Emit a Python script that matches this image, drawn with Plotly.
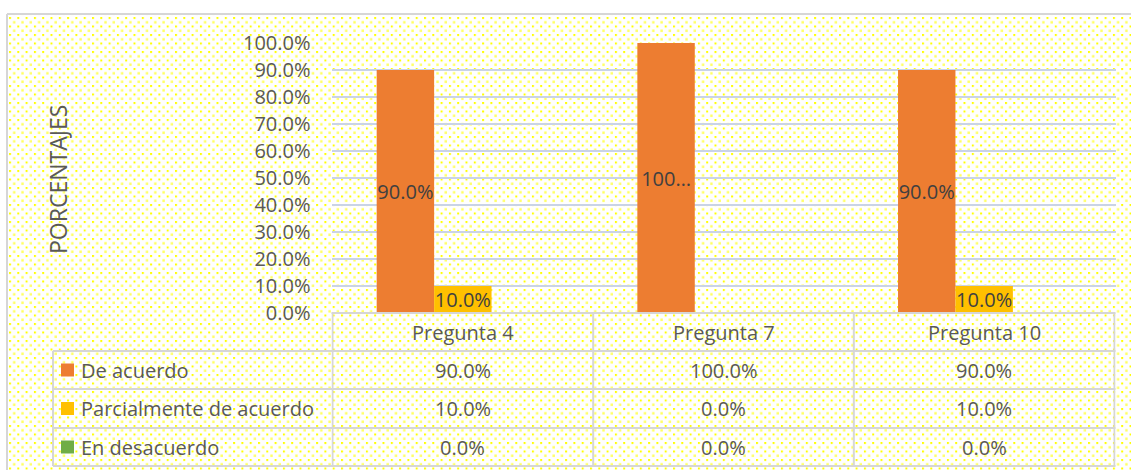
import base64
import plotly.graph_objects as go

# ---------------- data ----------------
categories = ["Pregunta 4", "Pregunta 7", "Pregunta 10"]
series_names = ["De acuerdo", "Parcialmente de acuerdo", "En desacuerdo"]
de_acuerdo = [0.90, 1.00, 0.90]
parcialmente = [0.10, 0.00, 0.10]
en_desacuerdo = [0.00, 0.00, 0.00]
series_values = [de_acuerdo, parcialmente, en_desacuerdo]
series_colors = ["#ED7D31", "#FFC000", "#70AD47"]
y_title = "PORCENTAJES"

# ---------------- layout helpers ----------------
W, H = 1131, 470
FONT = "Open Sans"
TXT = "#595959"
LINE = "#D6D6D6"


def px(x):
    return x / W


def py(y):
    return 1 - y / H


PLOT_L, PLOT_R = 331.5, 1115.5
PLOT_T, PLOT_B = 43, 313
ROWS = [313, 351, 389, 428, 466]
LEG_L = 53


def fmt(v):
    return f"{v * 100:.1f}%"


def bar_label(v):
    if v == 0:
        return ""
    s = fmt(v)
    return s[:3] + "…" if len(s) > 5 else s


fig = go.Figure()
for name, vals, col in zip(series_names, series_values, series_colors):
    fig.add_trace(go.Bar(
        x=categories, y=vals, name=name, marker=dict(color=col, line=dict(width=0)),
        text=[bar_label(v) for v in vals], textposition="inside",
        insidetextanchor="middle", textangle=0, constraintext="none",
        textfont=dict(family=FONT, size=20, color="#404040"),
        cliponaxis=False, showlegend=False,
    ))

# dotted background pattern (svg)
bw, bh = W - 7, H - 14
svg = f'''<svg xmlns="http://www.w3.org/2000/svg" width="{bw}" height="{bh}" viewBox="0 0 {bw} {bh}">
<defs><pattern id="p" x="2" y="3" width="8.3" height="8.5" patternUnits="userSpaceOnUse">
<rect x="0" y="0" width="2" height="2" fill="#FFFF00"/>
<rect x="4.0" y="4.1" width="2.4" height="2.4" fill="#FFFF5C"/>
</pattern></defs>
<rect width="{bw}" height="{bh}" fill="#FFFFFF"/>
<rect width="{bw}" height="{bh}" fill="url(#p)"/>
</svg>'''
src = "data:image/svg+xml;base64," + base64.b64encode(svg.encode()).decode()

shapes = []
# outer chart border
shapes.append(dict(type="line", xref="paper", yref="paper", x0=px(7), x1=1.0, y0=py(14), y1=py(14),
                   line=dict(color=LINE, width=2)))
shapes.append(dict(type="line", xref="paper", yref="paper", x0=px(7), x1=px(7), y0=py(14), y1=0,
                   line=dict(color=LINE, width=2)))
# table horizontal lines
shapes.append(dict(type="line", xref="paper", yref="paper", x0=px(PLOT_L), x1=px(PLOT_R),
                   y0=py(ROWS[0]), y1=py(ROWS[0]), line=dict(color=LINE, width=2)))
for r in ROWS[1:]:
    shapes.append(dict(type="line", xref="paper", yref="paper", x0=px(LEG_L), x1=px(PLOT_R),
                       y0=py(r), y1=py(r), line=dict(color=LINE, width=2)))
# table vertical lines (category boundaries)
for i in range(len(categories) + 1):
    shapes.append(dict(type="line", xref="x", yref="paper", x0=i - 0.5, x1=i - 0.5,
                       y0=py(ROWS[0]), y1=py(ROWS[-1]), line=dict(color=LINE, width=2)))
shapes.append(dict(type="line", xref="paper", yref="paper", x0=px(LEG_L), x1=px(LEG_L),
                   y0=py(ROWS[1]), y1=py(ROWS[-1]), line=dict(color=LINE, width=2)))

annotations = []
# axis title
annotations.append(dict(text=y_title, xref="paper", yref="paper", x=px(58), y=py(180),
                        xanchor="center", yanchor="middle",
                        showarrow=False, textangle=-90, font=dict(family=FONT, size=23, color=TXT)))
# header row
for c in categories:
    annotations.append(dict(text=c, xref="x", yref="paper", x=c, y=py((ROWS[0] + ROWS[1]) / 2),
                            xanchor="center", yanchor="middle",
                            showarrow=False, font=dict(family=FONT, size=20, color=TXT)))
# data rows
for k, (name, vals, col) in enumerate(zip(series_names, series_values, series_colors)):
    yc = (ROWS[k + 1] + ROWS[k + 2]) / 2
    shapes.append(dict(type="rect", xref="paper", yref="paper", x0=px(61), x1=px(74),
                       y0=py(yc - 6.5), y1=py(yc + 6.5), fillcolor=col, line=dict(width=0)))
    annotations.append(dict(text=name, xref="paper", yref="paper", x=px(79), y=py(yc),
                            xanchor="left", yanchor="middle",
                            showarrow=False, font=dict(family=FONT, size=20, color=TXT)))
    for c, v in zip(categories, vals):
        annotations.append(dict(text=fmt(v), xref="x", yref="paper", x=c, y=py(yc),
                                xanchor="center", yanchor="middle",
                                showarrow=False, font=dict(family=FONT, size=20, color=TXT)))

fig.update_layout(
    width=W, height=H, margin=dict(l=0, r=0, t=0, b=0, pad=0, autoexpand=False),
    paper_bgcolor="white", plot_bgcolor="rgba(0,0,0,0)",
    barmode="group", bargap=0.339, bargroupgap=0,
    font=dict(family=FONT, size=20, color=TXT),
    xaxis=dict(domain=[px(PLOT_L), px(PLOT_R)], showticklabels=False, showgrid=False,
               zeroline=False, showline=False, ticks="", automargin=False),
    yaxis=dict(domain=[py(PLOT_B), py(PLOT_T)], range=[0, 1], dtick=0.1, tickformat=".1%",
               showgrid=True, gridcolor="#C9D3E6", gridwidth=1.5, zeroline=False, showline=False,
               ticks="", ticklabelstandoff=20, automargin=False,
               tickfont=dict(family=FONT, size=20, color=TXT)),
    images=[dict(source=src, xref="paper", yref="paper", x=px(7), y=py(14), sizex=bw / W, sizey=bh / H,
                 xanchor="left", yanchor="top", sizing="stretch", layer="below")],
    shapes=shapes, annotations=annotations,
)

fig.write_html("out.html", config={"displayModeBar": False},
               post_script="document.body.style.margin='0';")
